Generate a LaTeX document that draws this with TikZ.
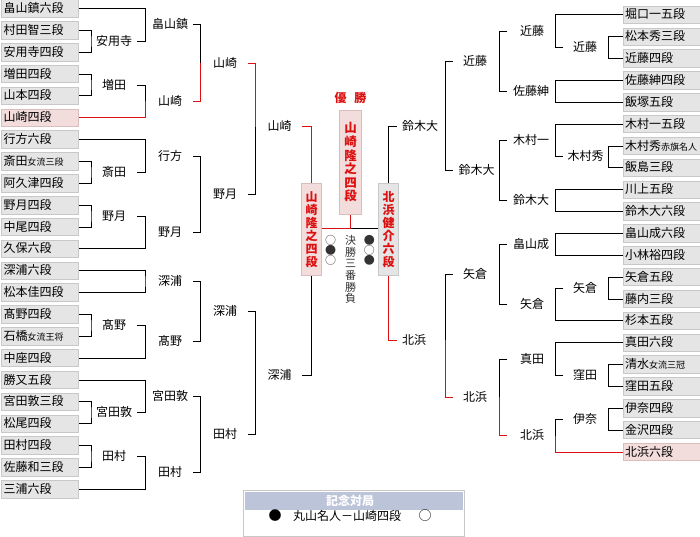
\documentclass[tikz,border=0pt]{standalone}
\usepackage{fontspec}
\setmainfont{Noto Sans CJK JP}
\definecolor{rd}{RGB}{220,16,16}
\definecolor{bxf}{RGB}{229,229,229}
\definecolor{bxl}{RGB}{200,200,200}
\definecolor{pkf}{RGB}{243,220,220}
\definecolor{pkl}{RGB}{218,190,190}
\definecolor{hdr}{RGB}{188,196,218}
\newcommand\smtxt[1]{{\fontsize{9}{9}\selectfont #1}}
\tikzset{
  ln/.style={line width=1pt, black},
  rl/.style={line width=1pt, rd},
  nm/.style={font=\fontsize{12}{12}\selectfont, text height=9.5pt, text depth=1.5pt},
  lbox/.style={nm, draw=bxl, fill=bxf, line width=1pt, anchor=west, minimum height=17.5pt, text width=72pt, inner xsep=2.5pt, inner ysep=0pt, align=left},
  rbox/.style={lbox, text width=74pt, inner xsep=1.5pt},
  win/.style={draw=pkl, fill=pkf},
  lab/.style={nm, inner sep=0pt},
  vbox/.style={line width=1pt, font=\bfseries\fontsize{12}{13}\selectfont, text=rd, align=center, inner sep=0pt, minimum width=20pt, minimum height=91pt},
  dotmark/.style={font=\fontsize{11}{11}\selectfont, text=black!80, inner sep=0pt},
}
\begin{document}
\begin{tikzpicture}[x=1pt,y=-1pt]
\useasboundingbox (0,0) rectangle (700,537);
% ---------- left boxes
\node[lbox] (L0) at (0.5,8.6) {畠山鎮六段};
\node[lbox] (L1) at (0.5,30.45) {村田智三段};
\node[lbox] (L2) at (0.5,52.3) {安用寺四段};
\node[lbox] (L3) at (0.5,74.15) {増田四段};
\node[lbox] (L4) at (0.5,96.0) {山本四段};
\node[lbox,win] (L5) at (0.5,117.85) {山崎四段};
\node[lbox] (L6) at (0.5,139.7) {行方六段};
\node[lbox] (L7) at (0.5,161.55) {斎田\smtxt{女流三段}};
\node[lbox] (L8) at (0.5,183.4) {阿久津四段};
\node[lbox] (L9) at (0.5,205.25) {野月四段};
\node[lbox] (L10) at (0.5,227.1) {中尾四段};
\node[lbox] (L11) at (0.5,248.95) {久保六段};
\node[lbox] (L12) at (0.5,270.8) {深浦六段};
\node[lbox] (L13) at (0.5,292.65) {松本佳四段};
\node[lbox] (L14) at (0.5,314.5) {髙野四段};
\node[lbox] (L15) at (0.5,336.35) {石橋\smtxt{女流王将}};
\node[lbox] (L16) at (0.5,358.2) {中座四段};
\node[lbox] (L17) at (0.5,380.05) {勝又五段};
\node[lbox] (L18) at (0.5,401.9) {宮田敦三段};
\node[lbox] (L19) at (0.5,423.75) {松尾四段};
\node[lbox] (L20) at (0.5,445.6) {田村四段};
\node[lbox] (L21) at (0.5,467.45) {佐藤和三段};
\node[lbox] (L22) at (0.5,489.3) {三浦六段};
% ---------- right boxes
\node[rbox] (R0) at (623,15) {堀口一五段};
\node[rbox] (R1) at (623,36.85) {松本秀三段};
\node[rbox] (R2) at (623,58.7) {近藤四段};
\node[rbox] (R3) at (623,80.55) {佐藤紳四段};
\node[rbox] (R4) at (623,102.4) {飯塚五段};
\node[rbox] (R5) at (623,124.25) {木村一五段};
\node[rbox] (R6) at (623,146.1) {木村秀\smtxt{赤旗名人}};
\node[rbox] (R7) at (623,167.95) {飯島三段};
\node[rbox] (R8) at (623,189.8) {川上五段};
\node[rbox] (R9) at (623,211.65) {鈴木大六段};
\node[rbox] (R10) at (623,233.5) {畠山成六段};
\node[rbox] (R11) at (623,255.35) {小林裕四段};
\node[rbox] (R12) at (623,277.2) {矢倉五段};
\node[rbox] (R13) at (623,299.05) {藤内三段};
\node[rbox] (R14) at (623,320.9) {杉本五段};
\node[rbox] (R15) at (623,342.75) {真田六段};
\node[rbox] (R16) at (623,364.6) {清水\smtxt{女流三冠}};
\node[rbox] (R17) at (623,386.45) {窪田五段};
\node[rbox] (R18) at (623,408.3) {伊奈四段};
\node[rbox] (R19) at (623,430.15) {金沢四段};
\node[rbox,win] (R20) at (623,452) {北浜六段};
% ---------- left labels
\node[lab] (a1) at (114,41.4) {安用寺};
\node[lab] (a2) at (114,85.1) {増田};
\node[lab] (a3) at (114,172.5) {斎田};
\node[lab] (a4) at (114,216.2) {野月};
\node[lab] (a5) at (114,325.4) {髙野};
\node[lab] (a6) at (114,412.8) {宮田敦};
\node[lab] (a7) at (114,456.5) {田村};
\node[lab] (b1) at (170,25) {畠山鎮};
\node[lab] (b2) at (170,101.5) {山崎};
\node[lab] (b3) at (170,156.1) {行方};
\node[lab] (b4) at (170,232.6) {野月};
\node[lab] (b5) at (170,281.7) {深浦};
\node[lab] (b6) at (170,341.8) {髙野};
\node[lab] (b7) at (170,396.4) {宮田敦};
\node[lab] (b8) at (170,472.9) {田村};
\node[lab] (c1) at (225,63.25) {山崎};
\node[lab] (c2) at (225,194.35) {野月};
\node[lab] (c3) at (225,311.75) {深浦};
\node[lab] (c4) at (225,434.65) {田村};
\node[lab] (d1) at (279.5,127) {山崎};
\node[lab] (d2) at (279.5,375) {深浦};
% ---------- right labels
\node[lab] (e1) at (585,47.8) {近藤};
\node[lab] (e2) at (585.5,157) {木村秀};
\node[lab] (e3) at (585,288.1) {矢倉};
\node[lab] (e4) at (585,375.5) {窪田};
\node[lab] (e5) at (585,419.2) {伊奈};
\node[lab] (f1) at (532,31.4) {近藤};
\node[lab] (f2) at (531,91.5) {佐藤紳};
\node[lab] (f3) at (531,140.6) {木村一};
\node[lab] (f4) at (531,200.7) {鈴木大};
\node[lab] (f5) at (531,244.4) {畠山成};
\node[lab] (f6) at (532,304.5) {矢倉};
\node[lab] (f7) at (532,359.1) {真田};
\node[lab] (f8) at (532,435.6) {北浜};
\node[lab] (g1) at (475,61.45) {近藤};
\node[lab] (g2) at (476.5,170.65) {鈴木大};
\node[lab] (g3) at (475,274.45) {矢倉};
\node[lab] (g4) at (475,397.35) {北浜};
\node[lab,anchor=west] (h1) at (402,127) {鈴木大};
\node[lab,anchor=west] (h2) at (402,340) {北浜};
% ---------- centre
\node[vbox,win,minimum width=22.4pt,minimum height=103.3pt,font=\bfseries\fontsize{12.5}{13.6}\selectfont] (CH) at (350.5,162.35) {山\\崎\\隆\\之\\四\\段};
\node[text=rd,font=\bfseries\fontsize{12}{12}\selectfont,inner sep=0pt] (yu) at (350.5,98) {優\hspace{8pt}勝};
\node[vbox,win] (LF) at (311.5,229.5) {山\\崎\\隆\\之\\四\\段};
\node[vbox,draw=bxl,fill=bxf] (RF) at (388.5,229.5) {北\\浜\\健\\介\\六\\段};
\node[font=\fontsize{11}{11.7}\selectfont,align=center,text=black!80,inner sep=0pt] (kt) at (350.5,269.5) {決\\勝\\三\\番\\勝\\負};
\node[dotmark] (m1) at (330.7,240) {○};
\node[dotmark] (m2) at (330.7,250) {●};
\node[dotmark] (m3) at (330.7,260) {○};
\node[dotmark] (m4) at (369.3,240) {●};
\node[dotmark] (m5) at (369.3,250) {○};
\node[dotmark] (m6) at (369.3,260) {●};
% ---------- bottom box
\node[draw=bxl,line width=1pt,minimum width=221pt,minimum height=46.5pt,inner sep=0pt] (kbox) at (353.75,513.25) {};
\node[fill=hdr,minimum width=217.7pt,minimum height=18.3pt,inner sep=0pt] (khead) at (353.9,500.85) {};
\node[text=white,font=\bfseries\fontsize{12}{12}\selectfont,inner sep=0pt] (ktitle) at (350,500.85) {記念対局};
\node[dotmark,text=black,font=\fontsize{13}{13}\selectfont] (k1) at (275,516) {●};
\node[nm,anchor=west,inner sep=0pt] (k2) at (293,516) {丸山名人－山崎四段};
\node[dotmark,text=black,font=\fontsize{13}{13}\selectfont] (k3) at (425,516) {○};
% ---------- left brackets
\draw[ln] (L1.east) -| (91,41.4) |- (L2.east);
\draw[ln] (L3.east) -| (91,85.1) |- (L4.east);
\draw[ln] (L0.east) -| (145,41.4) -- (137,41.4);
\draw[ln] (137,85.1) -| (145,101.5);
\draw[rl] (145,101.5) |- (L5.east);
\draw[ln] (193,25) -| (200,63.25);
\draw[rl] (200,63.25) |- (193,101.5);
\draw[rl] (248,63.25) -| (255,127);
\draw[ln] (255,127) |- (248,194.35);
\draw[rl] (302,127) -| (LF.north);
\draw[ln] (LF.south) |- (302,375);
\draw[ln] (L7.east) -| (91,172.5) |- (L8.east);
\draw[ln] (L6.east) -| (145,172.5) -- (137,172.5);
\draw[ln] (L9.east) -| (91,216.2) |- (L10.east);
\draw[ln] (137,216.2) -- (145,216.2) |- (L11.east);
\draw[ln] (193,156.1) -| (200,232.6) -- (193,232.6);
\draw[ln] (L12.east) -| (145,281.7) |- (L13.east);
\draw[ln] (L14.east) -| (91,325.4) |- (L15.east);
\draw[ln] (137,325.4) -- (145,325.4) |- (L16.east);
\draw[ln] (193,281.7) -| (200,341.8) -- (193,341.8);
\draw[ln] (L18.east) -| (91,412.8) |- (L19.east);
\draw[ln] (L17.east) -| (145,412.8) -- (137,412.8);
\draw[ln] (L20.east) -| (91,456.5) |- (L21.east);
\draw[ln] (137,456.5) -- (145,456.5) |- (L22.east);
\draw[ln] (193,396.4) -| (200,472.9) -- (193,472.9);
\draw[ln] (248,311.75) -| (255,434.65) -- (248,434.65);
% ---------- right brackets
\draw[ln] (R1.west) -| (608,47.8) |- (R2.west);
\draw[ln] (R0.west) -| (555.7,47.8) -- (563,47.8);
\draw[ln] (R3.west) -| (555.7,91.5) |- (R4.west);
\draw[ln] (507,31.4) -| (499.3,91.5) -- (507,91.5);
\draw[ln] (R6.west) -| (608,157) |- (R7.west);
\draw[ln] (R5.west) -| (555.7,157) -- (563,157);
\draw[ln] (R8.west) -| (555.7,200.7) |- (R9.west);
\draw[ln] (507,140.6) -| (499.3,200.7) -- (507,200.7);
\draw[ln] (453,61.45) -| (445,170.65) -- (453,170.65);
\draw[ln] (397,127) -| (RF.north);
\draw[rl] (RF.south) |- (397,340);
\draw[ln] (R10.west) -| (555.7,244.4) |- (R11.west);
\draw[ln] (R12.west) -| (608,288.1) |- (R13.west);
\draw[ln] (563,288.1) -- (555.7,288.1) |- (R14.west);
\draw[ln] (507,244.4) -| (499.3,304.5) -- (507,304.5);
\draw[ln] (R16.west) -| (608,375.5) |- (R17.west);
\draw[ln] (R15.west) -| (555.7,375.5) -- (563,375.5);
\draw[ln] (R18.west) -| (608,419.2) |- (R19.west);
\draw[ln] (563,419.2) -| (555.7,435.6);
\draw[rl] (555.7,435.6) |- (R20.west);
\draw[ln] (507,359.1) -| (499.3,397.35);
\draw[rl] (499.3,397.35) |- (507,435.6);
\draw[ln] (453,274.45) -| (445,340);
\draw[rl] (445,340) |- (453,397.35);
% ---------- final
\coordinate (fj) at (350.5,228);
\draw[rl] (LF.east |- fj) -- (fj) -- (CH.south);
\draw[ln] (fj) -- (RF.west |- fj);
\end{tikzpicture}
\end{document}
